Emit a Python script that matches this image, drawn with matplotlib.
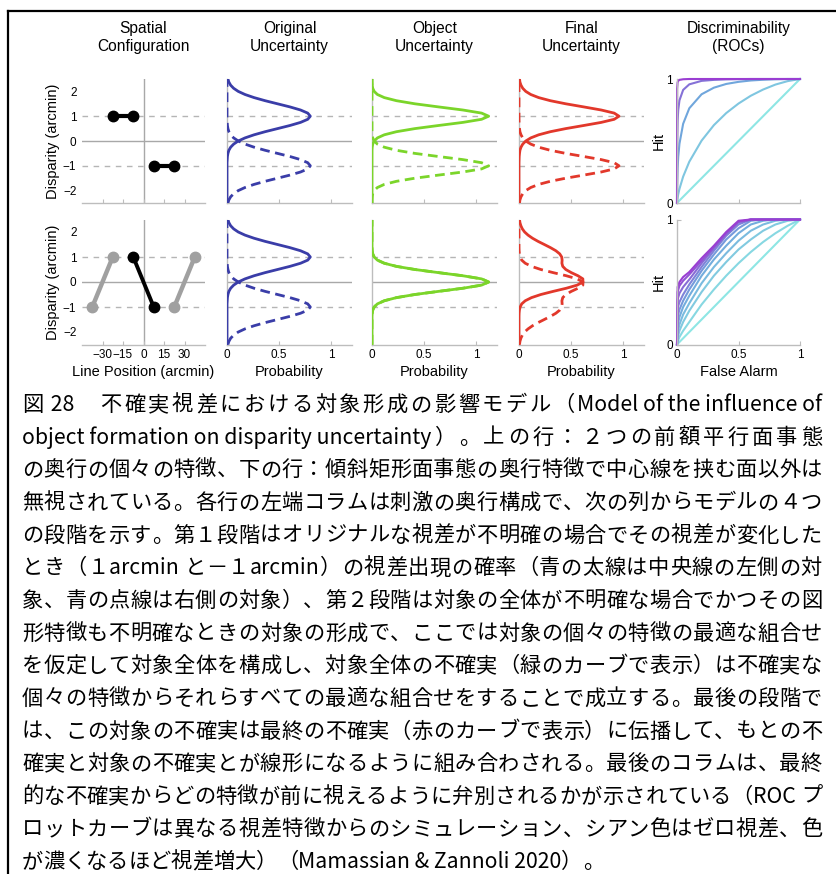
import re
import numpy as np
import matplotlib
matplotlib.use('Agg')
import matplotlib.pyplot as plt
from matplotlib.lines import Line2D
from matplotlib.colors import LinearSegmentedColormap

plt.rcParams['font.family'] = ['Liberation Sans', 'DejaVu Sans']

# ---- data ----
titles = ['Spatial\nConfiguration', 'Original\nUncertainty', 'Object\nUncertainty',
          'Final\nUncertainty', 'Discriminability\n(ROCs)']

# spatial configuration (line position, disparity)
top_left_x, top_left_d = [-22.5, -7.5], [1, 1]
top_right_x, top_right_d = [7.5, 22.5], [-1, -1]
bot_gray1_x, bot_gray1_d = [-37.5, -22.5], [-1, 1]
bot_black_x, bot_black_d = [-7.5, 7.5], [1, -1]
bot_gray2_x, bot_gray2_d = [22.5, 37.5], [-1, 1]

# disparity samples for the probability curves
disp = [-2.5, -2.375, -2.25, -2.125, -2.0, -1.875, -1.75, -1.625, -1.5, -1.375,
        -1.25, -1.125, -1.0, -0.875, -0.75, -0.625, -0.5, -0.375, -0.25, -0.125,
        0.0, 0.125, 0.25, 0.375, 0.5, 0.625, 0.75, 0.875, 1.0, 1.125,
        1.25, 1.375, 1.5, 1.625, 1.75, 1.875, 2.0, 2.125, 2.25, 2.375, 2.5]

blue_solid = [0, 0, 0, 0, 0, 0, 0, 0, 0, 0, 0, 0, 0, 0,
              0.002, 0.004, 0.009, 0.018, 0.035, 0.064, 0.108, 0.173, 0.26, 0.366, 0.485,
              0.604, 0.706, 0.775, 0.8, 0.775, 0.706, 0.604, 0.485, 0.366, 0.26, 0.173,
              0.108, 0.064, 0.035, 0.018, 0.009]
blue_dashed = [0.009, 0.018, 0.035, 0.064, 0.108, 0.173, 0.26, 0.366, 0.485, 0.604,
               0.706, 0.775, 0.8, 0.775, 0.706, 0.604, 0.485, 0.366, 0.26, 0.173,
               0.108, 0.064, 0.035, 0.018, 0.009, 0.004, 0.002,
               0, 0, 0, 0, 0, 0, 0, 0, 0, 0, 0, 0, 0, 0]

green_solid = [0, 0, 0, 0, 0, 0, 0, 0, 0, 0, 0, 0, 0, 0, 0, 0, 0, 0,
               0.002, 0.007, 0.021, 0.052, 0.118, 0.235, 0.412, 0.638, 0.872, 1.052, 1.12,
               1.052, 0.872, 0.638, 0.412, 0.235, 0.118, 0.052, 0.021, 0.007, 0.002, 0, 0]
green_dashed = [0, 0, 0.002, 0.007, 0.021, 0.052, 0.118, 0.235, 0.412, 0.638, 0.872,
                1.052, 1.12, 1.052, 0.872, 0.638, 0.412, 0.235, 0.118, 0.052, 0.021,
                0.007, 0.002, 0, 0, 0, 0, 0, 0, 0, 0, 0, 0, 0, 0, 0, 0, 0, 0, 0, 0]
green_center = [0, 0, 0, 0, 0, 0, 0, 0, 0, 0, 0.002, 0.007, 0.021, 0.052, 0.118, 0.235,
                0.412, 0.638, 0.872, 1.052, 1.12, 1.052, 0.872, 0.638, 0.412, 0.235,
                0.118, 0.052, 0.021, 0.007, 0.002, 0, 0, 0, 0, 0, 0, 0, 0, 0, 0]

red_solid = [0, 0, 0, 0, 0, 0, 0, 0, 0, 0, 0, 0, 0, 0,
             0.001, 0.002, 0.005, 0.009, 0.019, 0.036, 0.065, 0.113, 0.189, 0.301, 0.449,
             0.621, 0.789, 0.914, 0.96, 0.914, 0.789, 0.621, 0.449, 0.301, 0.189, 0.113,
             0.065, 0.036, 0.019, 0.009, 0.005]
red_dashed = [0.005, 0.009, 0.019, 0.036, 0.065, 0.113, 0.189, 0.301, 0.449, 0.621,
              0.789, 0.914, 0.96, 0.914, 0.789, 0.621, 0.449, 0.301, 0.189, 0.113,
              0.065, 0.036, 0.019, 0.009, 0.005, 0.002, 0.001,
              0, 0, 0, 0, 0, 0, 0, 0, 0, 0, 0, 0, 0, 0]
red2_solid = [0, 0, 0, 0, 0, 0, 0, 0, 0, 0, 0.001, 0.004, 0.011, 0.026, 0.06, 0.12,
              0.21, 0.328, 0.454, 0.558, 0.614, 0.613, 0.566, 0.502, 0.449, 0.42, 0.412,
              0.414, 0.41, 0.391, 0.354, 0.302, 0.243, 0.183, 0.13, 0.087, 0.054, 0.032,
              0.018, 0.009, 0.005]
red2_dashed = [0.005, 0.009, 0.018, 0.032, 0.054, 0.087, 0.13, 0.183, 0.243, 0.302,
               0.354, 0.391, 0.41, 0.414, 0.412, 0.42, 0.449, 0.502, 0.566, 0.613, 0.614,
               0.558, 0.454, 0.328, 0.21, 0.12, 0.06, 0.026, 0.011, 0.004, 0.001,
               0, 0, 0, 0, 0, 0, 0, 0, 0, 0]

# ROC curves (false alarm -> hit)
fa_top = [0, 0.001, 0.005, 0.01, 0.02, 0.05, 0.1, 0.2, 0.3, 0.4, 0.5, 0.6, 0.7, 0.8, 0.9, 1.0]
roc_top = [
    [0, 0.001, 0.005, 0.01, 0.02, 0.05, 0.1, 0.2, 0.3, 0.4, 0.5, 0.6, 0.7, 0.8, 0.9, 1.0],
    [0, 0.013, 0.042, 0.07, 0.114, 0.213, 0.333, 0.503, 0.628, 0.725, 0.802, 0.865, 0.915, 0.955, 0.983, 1.0],
    [0, 0.138, 0.282, 0.372, 0.478, 0.639, 0.764, 0.877, 0.93, 0.96, 0.977, 0.988, 0.994, 0.998, 1.0, 1.0],
    [0, 0.464, 0.664, 0.75, 0.828, 0.912, 0.957, 0.985, 0.993, 0.997, 0.999, 1.0, 1.0, 1.0, 1.0, 1.0],
    [0, 0.921, 0.973, 0.985, 0.993, 0.998, 1.0, 1.0, 1.0, 1.0, 1.0, 1.0, 1.0, 1.0, 1.0, 1.0],
]
fa_bot = [0, 0.005, 0.02, 0.05, 0.1, 0.2, 0.3, 0.4, 0.5, 0.6, 0.7, 0.8, 0.9, 1.0]
roc_bot = [
    [0, 0.005, 0.02, 0.05, 0.1, 0.2, 0.3, 0.4, 0.5, 0.6, 0.7, 0.8, 0.9, 1.0],
    [0, 0.02, 0.06, 0.11, 0.18, 0.32, 0.44, 0.55, 0.65, 0.74, 0.82, 0.89, 0.95, 1.0],
    [0, 0.05, 0.11, 0.18, 0.27, 0.42, 0.55, 0.66, 0.76, 0.84, 0.91, 0.96, 0.99, 1.0],
    [0, 0.09, 0.16, 0.24, 0.33, 0.49, 0.62, 0.73, 0.83, 0.91, 0.96, 0.99, 1.0, 1.0],
    [0, 0.15, 0.22, 0.3, 0.39, 0.55, 0.68, 0.79, 0.89, 0.96, 0.99, 1.0, 1.0, 1.0],
    [0, 0.22, 0.28, 0.35, 0.44, 0.59, 0.72, 0.84, 0.93, 0.99, 1.0, 1.0, 1.0, 1.0],
    [0, 0.29, 0.34, 0.4, 0.48, 0.62, 0.75, 0.87, 0.96, 1.0, 1.0, 1.0, 1.0, 1.0],
    [0, 0.36, 0.41, 0.46, 0.52, 0.65, 0.77, 0.88, 0.98, 1.0, 1.0, 1.0, 1.0, 1.0],
    [0, 0.42, 0.47, 0.51, 0.56, 0.67, 0.78, 0.89, 0.98, 1.0, 1.0, 1.0, 1.0, 1.0],
    [0, 0.46, 0.5, 0.54, 0.58, 0.69, 0.79, 0.9, 0.99, 1.0, 1.0, 1.0, 1.0, 1.0],
]

caption = [
    '図 28　不確実視差における対象形成の影響モデル（Model of the influence of',
    'object formation on disparity uncertainty）。上の行：２つの前額平行面事態',
    'の奥行の個々の特徴、下の行：傾斜矩形面事態の奥行特徴で中心線を挟む面以外は',
    '無視されている。各行の左端コラムは刺激の奥行構成で、次の列からモデルの４つ',
    'の段階を示す。第１段階はオリジナルな視差が不明確の場合でその視差が変化した',
    'とき（１arcmin と－１arcmin）の視差出現の確率（青の太線は中央線の左側の対',
    '象、青の点線は右側の対象）、第２段階は対象の全体が不明確な場合でかつその図',
    '形特徴も不明確なときの対象の形成で、ここでは対象の個々の特徴の最適な組合せ',
    'を仮定して対象全体を構成し、対象全体の不確実（緑のカーブで表示）は不確実な',
    '個々の特徴からそれらすべての最適な組合せをすることで成立する。最後の段階で',
    'は、この対象の不確実は最終の不確実（赤のカーブで表示）に伝播して、もとの不',
    '確実と対象の不確実とが線形になるように組み合わされる。最後のコラムは、最終',
    '的な不確実からどの特徴が前に視えるように弁別されるかが示されている（ROC プ',
    'ロットカーブは異なる視差特徴からのシミュレーション、シアン色はゼロ視差、色',
    'が濃くなるほど視差増大）（Mamassian & Zannoli 2020）。',
]

# ---- styling ----
W, H = 836, 874
BLUE = '#3a3da8'
GREEN = '#7bd52a'
RED = '#e2382b'
GRID = '#b5b5b5'
AXC = '#bdbdbd'

fig = plt.figure(figsize=(W / 100, H / 100), dpi=100)


def px_axes(x0, y0, x1, y1):
    return fig.add_axes([x0 / W, 1 - y1 / H, (x1 - x0) / W, (y1 - y0) / H])


cols = [(82, 205), (227, 352), (372, 497), (519, 644), (677, 800)]
rows = [(79, 203), (219.5, 344.5)]


def base_style(ax):
    for s in ['top', 'right']:
        ax.spines[s].set_visible(False)
    for s in ['left', 'bottom']:
        ax.spines[s].set_color(AXC)
        ax.spines[s].set_linewidth(1)
    ax.tick_params(direction='in', length=3, color=AXC, labelsize=8.5, pad=3)


def guides(ax):
    ax.axhline(0, color='#a8a8a8', lw=1, zorder=1)
    for v in (1, -1):
        ax.axhline(v, color=GRID, lw=1, ls=(0, (4, 4)), zorder=1)


axes = []
for r, (ry0, ry1) in enumerate(rows):
    row_axes = []
    for c, (cx0, cx1) in enumerate(cols):
        ax = px_axes(cx0, ry0, cx1, ry1)
        base_style(ax)
        row_axes.append(ax)
    axes.append(row_axes)

# spatial configuration
for r in range(2):
    ax = axes[r][0]
    ax.set_xlim(-45, 45)
    ax.set_ylim(-2.5, 2.5)
    ax.spines['left'].set_visible(False)
    ax.axvline(0, color='#a8a8a8', lw=1, zorder=1)
    guides(ax)
    ax.set_xticks([-30, -15, 0, 15, 30])
    ax.set_yticks([-2, -1, 0, 1, 2])
    ax.set_yticklabels(['\u22122', '\u22121', '0', '1', '2'])
    ax.tick_params(axis='y', length=0, pad=4)
    ax.set_ylabel('Disparity (arcmin)', fontsize=10.5, labelpad=2)

ax = axes[0][0]
ax.plot(top_left_x, top_left_d, color='black', lw=3, marker='o', ms=7.5)
ax.plot(top_right_x, top_right_d, color='black', lw=3, marker='o', ms=7.5)
ax.tick_params(axis='x', labelbottom=False)

ax = axes[1][0]
ax.plot(bot_gray1_x, bot_gray1_d, color='#a0a0a0', lw=3.2, marker='o', ms=7.5)
ax.plot(bot_gray2_x, bot_gray2_d, color='#a0a0a0', lw=3.2, marker='o', ms=7.5)
ax.plot(bot_black_x, bot_black_d, color='black', lw=2.8, marker='o', ms=7.5)
ax.set_xticklabels(['\u221230', '\u221215', '0', '15', '30'])
ax.set_xlabel('Line Position (arcmin)', fontsize=10.5, labelpad=3)

# probability panels
curves = [
    [(blue_solid, blue_dashed, BLUE), (green_solid, green_dashed, GREEN), (red_solid, red_dashed, RED)],
    [(blue_solid, blue_dashed, BLUE), (green_center, green_center, GREEN), (red2_solid, red2_dashed, RED)],
]
for r in range(2):
    for c in range(3):
        ax = axes[r][c + 1]
        solid, dashed, col = curves[r][c]
        ax.set_xlim(0, 1.2)
        ax.set_ylim(-2.5, 2.5)
        guides(ax)
        ax.plot(dashed, disp, color=col, lw=2, ls=(0, (3.5, 2)), zorder=3)
        ax.plot(solid, disp, color=col, lw=2, zorder=4)
        ax.set_xticks([0, 0.5, 1])
        ax.set_xticklabels(['0', '0.5', '1'])
        ax.set_yticks([])
        if r == 0:
            ax.tick_params(axis='x', labelbottom=False)
        else:
            ax.set_xlabel('Probability', fontsize=10.5, labelpad=3)

# ROC panels
cmap = LinearSegmentedColormap.from_list('roc', ['#8ee6e4', '#70a6dc', '#9a3ed2'])
for r, (fa, rocs) in enumerate([(fa_top, roc_top), (fa_bot, roc_bot)]):
    ax = axes[r][4]
    ax.set_xlim(0, 1)
    ax.set_ylim(0, 1)
    n = len(rocs)
    for i, hit in enumerate(rocs):
        ax.plot(fa, hit, color=cmap(i / (n - 1)), lw=1.5, clip_on=False)
    ax.set_xticks([0, 0.5, 1])
    ax.set_xticklabels(['0', '0.5', '1'])
    ax.set_yticks([0, 1])
    ax.set_yticklabels(['0', '1'])
    ax.set_ylabel('Hit', fontsize=10.5, labelpad=0)
    if r == 0:
        ax.tick_params(axis='x', labelbottom=False)
    else:
        ax.set_xlabel('False Alarm', fontsize=10.5, labelpad=3)

# column titles
for (cx0, cx1), t in zip(cols, titles):
    fig.text((cx0 + cx1) / 2 / W, 1 - 37.5 / H, t, ha='center', va='center',
             fontsize=11.2, linespacing=1.22)

# frame lines
fig.add_artist(Line2D([8 / W, 1], [1 - 11 / H, 1 - 11 / H], color='black', lw=1.6))
fig.add_artist(Line2D([8 / W, 8 / W], [1 - 11 / H, 0], color='black', lw=1.6))

# caption, justified between x=22 and x=822 like the original
renderer = fig.canvas.get_renderer()
for i, line in enumerate(caption):
    y = 1 - (405 + i * 32.65) / H
    tokens = re.findall(r'[ -~]+|.', line)
    texts = [fig.text(0, y, tok, ha='left', va='center', fontsize=15.3,
                      family=['Noto Sans CJK JP', 'DejaVu Sans']) for tok in tokens]
    widths = [t.get_window_extent(renderer).width for t in texts]
    gap = 0
    if i < len(caption) - 1 and len(tokens) > 1:
        gap = (800 - sum(widths)) / (len(tokens) - 1)
    x = 22
    for t, w in zip(texts, widths):
        t.set_x(x / W)
        x += w + gap

fig.savefig('out.png', dpi=100)
